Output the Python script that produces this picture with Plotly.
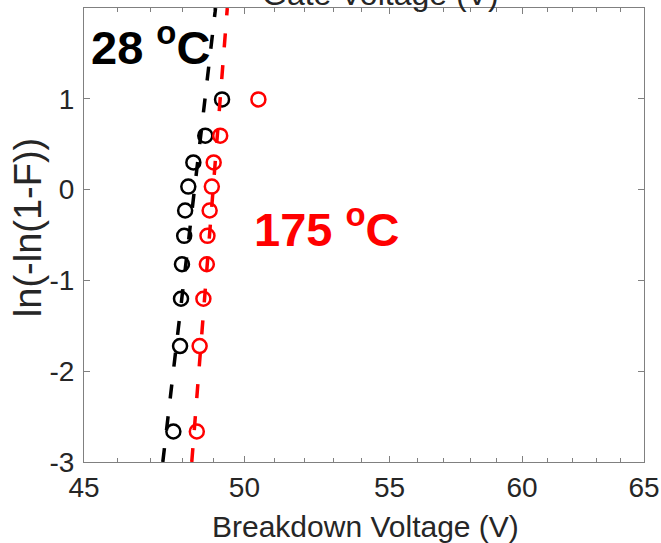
import plotly.graph_objects as go

# Weibull plot data
y_rank = [-2.664, -1.723, -1.202, -0.822, -0.509, -0.230, 0.033, 0.299, 0.594, 0.993]
bv_28 = [47.72, 47.93, 47.96, 47.99, 48.06, 48.09, 48.19, 48.35, 48.73, 49.27]
bv_175 = [48.46, 48.55, 48.67, 48.78, 48.80, 48.87, 48.94, 49.00, 49.21, 50.46]

# fitted lines (ends)
fit_y = [-3, 2]
fit_28 = [47.39, 49.06]
fit_175 = [48.30, 49.44]

x_ticks = [45, 50, 55, 60, 65]
x_minor = [v for v in range(46, 65) if v not in x_ticks]
y_ticks = [-3, -2, -1, 0, 1, 2]

fig = go.Figure()

fig.add_trace(go.Scatter(
    x=bv_28, y=y_rank, mode='markers',
    marker=dict(symbol='circle-open', size=14, color='black', line=dict(width=2.5)),
    showlegend=False
))
fig.add_trace(go.Scatter(
    x=bv_175, y=y_rank, mode='markers',
    marker=dict(symbol='circle-open', size=14, color='red', line=dict(width=2.5)),
    showlegend=False
))
fig.add_trace(go.Scatter(
    x=fit_28, y=fit_y, mode='lines',
    line=dict(color='black', width=3.5, dash='14px,18px'),
    showlegend=False
))
fig.add_trace(go.Scatter(
    x=fit_175, y=fit_y, mode='lines',
    line=dict(color='red', width=3.5, dash='14px,18px'),
    showlegend=False
))

tick_font = dict(family='Liberation Sans, Arial', size=28, color='#262626')
title_font = dict(family='Liberation Sans, Arial', size=30, color='#262626')
label_font = dict(family='Liberation Sans, Arial', size=47, weight='bold')

fig.update_layout(
    width=661, height=543,
    margin=dict(l=84, r=17, t=8, b=81),
    paper_bgcolor='white', plot_bgcolor='white',
    xaxis=dict(
        type='log', range=[1.653213, 1.812913], automargin=False,
        tickmode='array', tickvals=x_ticks, ticktext=[str(v) for v in x_ticks],
        ticks='inside', ticklen=6, tickcolor='#808080',
        minor=dict(tickmode='array', tickvals=x_minor, ticks='inside', ticklen=4, tickcolor='#808080'),
        showline=True, linecolor='#808080', linewidth=1, mirror='ticks',
        showgrid=False, zeroline=False,
        tickfont=tick_font,
    ),
    yaxis=dict(
        range=[-3, 2], automargin=False,
        tickmode='array', tickvals=y_ticks, ticktext=[str(v) for v in y_ticks],
        ticks='inside', ticklen=6, tickcolor='#808080',
        showline=True, linecolor='#808080', linewidth=1, mirror='ticks',
        showgrid=False, zeroline=False,
        tickfont=tick_font, ticklabelstandoff=3,
    ),
    annotations=[
        dict(text='Breakdown Voltage (V)', xref='paper', yref='paper', x=0.502, y=-0.143,
             xanchor='center', yanchor='middle', showarrow=False, font=title_font),
        dict(text='ln(-ln(1-F))', xref='paper', yref='paper', x=-0.1, y=0.515, textangle=-90,
             xanchor='center', yanchor='middle', showarrow=False,
             font=dict(family='Liberation Sans, Arial', size=38, color='#262626')),
        dict(text='28 <sup>o</sup>C', xref='paper', yref='paper', x=0.118, y=0.921,
             xanchor='center', yanchor='middle', showarrow=False, font=dict(label_font, color='black')),
        dict(text='175 <sup>o</sup>C', xref='paper', yref='paper', x=0.434, y=0.52,
             xanchor='center', yanchor='middle', showarrow=False, font=dict(label_font, color='red')),
        dict(text='Gate Voltage (V)', xref='paper', yref='paper', x=0.530, y=0.987,
             xanchor='center', yanchor='bottom', showarrow=False,
             font=dict(family='Liberation Sans, Arial', size=32, color='#262626')),
    ],
)

fig.write_html("out.html", config={'displayModeBar': False},
               post_script="document.body.style.margin='0px';")
